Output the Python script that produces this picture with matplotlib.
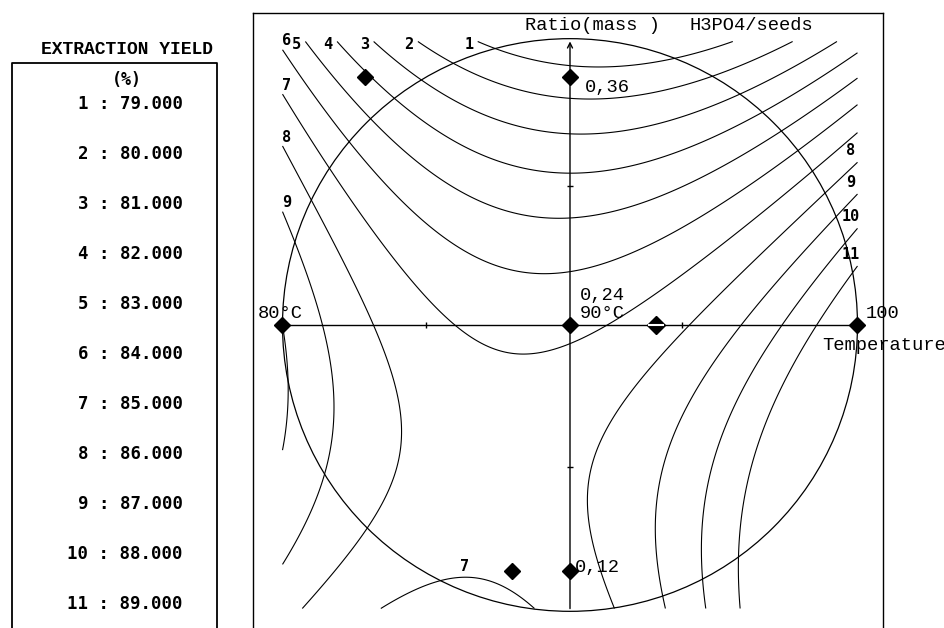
import numpy as np
import matplotlib.pyplot as plt
from matplotlib.patches import Ellipse

# legend of the iso-response curves
curve_ids = [1, 2, 3, 4, 5, 6, 7, 8, 9, 10, 11]
yield_levels = [79.0, 80.0, 81.0, 82.0, 83.0, 84.0, 85.0, 86.0, 87.0, 88.0, 89.0]

# points (coded units: temperature, ratio)
temp_pts = [-0.306, 0.0, 0.104, 0.581,
            -0.522, 0.0, 0.783,
            -0.678, 0.0, 0.939,
            -0.817, -0.689, -0.4, 0.0, 0.998,
            -0.904, -0.81, -0.4, 0.0, 0.998,
            -0.984, -0.932, -0.4, 0.0, 0.998,
            -0.998, -0.55, -0.417, -0.15, 0.0, 0.139, 0.998, -0.65, -0.428, -0.139,
            -0.984, -0.758, -0.671, -0.591, -0.703, -0.929, 0.981, 0.417, 0.07, 0.063, 0.08, 0.15,
            -1.0, -0.911, -0.852, -0.817, -0.859, -1.0, 0.998, 0.591, 0.313, 0.33,
            -1.0, -0.984, -1.0, 0.974, 0.737, 0.522, 0.47,
            0.963, 0.859, 0.661, 0.591]
ratio_pts = [1.005, 0.907, 0.91, 1.005,
             0.988, 0.801, 1.005,
             0.988, 0.67, 1.009,
             1.005, 0.864, 0.663, 0.54, 0.959,
             0.988, 0.864, 0.487, 0.374, 0.864,
             0.952, 0.864, 0.275, 0.187, 0.776,
             0.804, 0.159, 0.0, -0.113, -0.053, 0.0, 0.681, -0.995, -0.9, -0.984,
             0.6, 0.159, -0.018, -0.31, -0.713, -0.995, 0.557, 0.0, -0.547, -0.607, -0.818, -0.981,
             0.406, 0.159, -0.018, -0.254, -0.522, -0.847, 0.455, 0.0, -0.547, -0.988,
             -0.018, -0.265, -0.466, 0.31, 0.0, -0.406, -0.988,
             0.159, 0.0, -0.406, -0.988]
yield_pts = [79] * 4 + [80] * 3 + [81] * 3 + [82] * 5 + [83] * 5 + [84] * 5 + \
            [85] * 10 + [86] * 12 + [87] * 10 + [88] * 7 + [89] * 4

# experimental points (coded)
exp_temp = [-1.0, 0.0, 1.0, -0.713, 0.0, -0.2, 0.0]
exp_ratio = [0.0, 0.0, 0.0, 0.875, 0.875, -0.866, -0.866]
rep_temp = 0.3


def basis(u, v):
    cols = []
    for d in range(5):
        for j in range(d + 1):
            cols.append(u ** (d - j) * v ** j)
    return np.column_stack(cols)


tu = np.array(temp_pts)
rv = np.array(ratio_pts)
coef, *_ = np.linalg.lstsq(basis(tu, rv), np.array(yield_pts, float), rcond=None)

g = np.linspace(-1, 1, 241)
uu, vv = np.meshgrid(g, g)
zz = (basis(uu.ravel(), vv.ravel()) @ coef).reshape(uu.shape)

fig = plt.figure(figsize=(9.45, 6.28), dpi=100)
W, H = 945.0, 628.0

ax = fig.add_axes([253 / W, 0, (883 - 253) / W, (628 - 13) / H])
ax.set_xlim(-1.1026, 1.0887)
ax.set_ylim(-1.0688, 1.1005)
ax.set_xticks([])
ax.set_yticks([])
ax.spines['bottom'].set_visible(False)
for s in ['left', 'right', 'top']:
    ax.spines[s].set_linewidth(1.0)

cs = ax.contour(uu, vv, zz, levels=yield_levels, colors='black', linewidths=0.8)

mono = 'Liberation Mono'
lab_font = dict(family='DejaVu Sans Mono', fontweight='bold', fontsize=11, color='black')

for i, segs in enumerate(cs.allsegs):
    lvl = curve_ids[i]
    for seg in segs:
        if len(seg) < 5:
            continue
        if seg[:, 1].max() < -0.8:
            k = np.argmax(seg[:, 1])
            ax.text(seg[k, 0], seg[k, 1] + 0.01, str(lvl), ha='center', va='bottom', **lab_font)
            continue
        if yield_levels[i] <= 85 or seg[:, 0].mean() < 0:
            if seg[:, 1].max() < 0.1:
                continue
            p = seg[0] if seg[0, 0] < seg[-1, 0] else seg[-1]
            if p[1] > 0.98:
                ax.text(p[0] - 0.015, p[1] - 0.01, str(lvl), ha='right', va='center', **lab_font)
            else:
                ax.text(p[0] + 0.015, p[1] + 0.005, str(lvl), ha='center', va='bottom', **lab_font)
        else:
            p = seg[0] if seg[0, 1] > seg[-1, 1] else seg[-1]
            ax.text(p[0] - 0.025, p[1] + 0.015, str(lvl), ha='center', va='bottom', **lab_font)

# experimental domain and axes
ax.add_patch(Ellipse((0, 0), 2.0, 2.02, fill=False, color='black', lw=0.9))
ax.plot([-1, 1], [0, 0], color='black', lw=1.0)
ax.annotate('', xy=(0, 1.01), xytext=(0, -1.01),
            arrowprops=dict(arrowstyle='->', lw=1.0, color='black', mutation_scale=9))
ax.plot([-0.5, 0.39], [0, 0], ls='none', marker='|', ms=5, color='black')
ax.plot([0, 0], [0.49, -0.5], ls='none', marker='_', ms=5, color='black')

ax.plot(exp_temp, exp_ratio, ls='none', marker='D', ms=8, color='black')
ax.plot([rep_temp], [0], ls='none', marker='D', ms=9, color='black')
ax.plot([rep_temp], [0], ls='none', marker='_', ms=11, mew=1.5, color='white')

tf = dict(family=mono, fontsize=13.5, color='black')
ax.text(-0.157, 1.058, 'Ratio(mass )', ha='left', va='center', **tf)
ax.text(0.417, 1.058, 'H3PO4/seeds', ha='left', va='center', **tf)
ax.text(0.052, 0.836, '0,36', ha='left', va='center', **tf)
ax.text(0.035, 0.105, '0,24', ha='left', va='center', **tf)
ax.text(0.035, 0.042, '90°C', ha='left', va='center', **tf)
ax.text(-1.085, 0.042, '80°C', ha='left', va='center', **tf)
ax.text(1.03, 0.042, '100', ha='left', va='center', clip_on=False, **tf)
ax.text(0.877, -0.071, 'Temperature', ha='left', va='center', clip_on=False, **tf)
ax.text(0.017, -0.857, '0,12', ha='left', va='center', **tf)

# left legend panel
lax = fig.add_axes([0, 0, 250 / W, 1])
lax.set_xlim(0, 250)
lax.set_ylim(628, 0)
lax.axis('off')
lax.plot([12, 12, 217, 217], [628, 63, 63, 628], color='black', lw=1.3)
lax.text(127, 50, 'EXTRACTION YIELD', ha='center', va='center',
         family=mono, fontweight='bold', fontsize=13)
lax.text(127, 80, '(%)', ha='center', va='center',
         family='DejaVu Sans Mono', fontweight='bold', fontsize=12)
item_y = np.linspace(104, 604, len(curve_ids))
for cid, lv, yy in zip(curve_ids, yield_levels, item_y):
    lax.text(183, yy, '%d : %.3f' % (cid, lv), ha='right', va='center',
             family='DejaVu Sans Mono', fontweight='bold', fontsize=12.5)

fig.savefig('out.png', dpi=100)
